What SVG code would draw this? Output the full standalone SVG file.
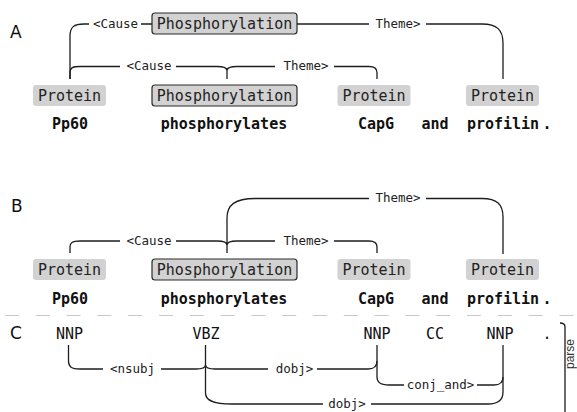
<svg xmlns="http://www.w3.org/2000/svg" width="577" height="412" viewBox="0 0 577 412">
<style>
.bg{fill:#ffffff}
.prot{fill:#d2d2d2;stroke:none}
.phos{fill:#d2d2d2;stroke:#2a2a2a;stroke-width:1.2}
.lbl{font-family:"DejaVu Sans Mono",monospace;font-size:15px;fill:#222;text-anchor:middle}
.word{font-family:"DejaVu Sans Mono",monospace;font-size:15px;font-weight:bold;fill:#111;text-anchor:middle}
.tag{font-family:"DejaVu Sans Mono",monospace;font-size:15px;fill:#111;text-anchor:middle}
.arcl{font-family:"DejaVu Sans Mono",monospace;font-size:12.5px;fill:#222;text-anchor:middle}
.row{font-family:"DejaVu Sans",sans-serif;font-size:17px;fill:#111}
.arc{fill:none;stroke:#1e1e1e;stroke-width:1.3}
.sep{fill:none;stroke:#c8c8c8;stroke-width:1.2;stroke-dasharray:14 16.8}
.side{font-family:"Liberation Sans",sans-serif;font-size:12px;fill:#333;text-anchor:middle}
</style>
<rect class="bg" x="0" y="0" width="577" height="412"/>

<text class="row" x="10" y="38">A</text>
<text class="row" x="11" y="212">B</text>
<text class="row" x="10" y="339">C</text>

<!-- Row A nodes -->
<g id="a-phos-top"><rect class="phos" x="152" y="13" width="145" height="21" rx="3"/><text class="lbl" x="224.5" y="29">Phosphorylation</text></g>
<g id="a-prot-pp60"><rect class="prot" x="33" y="85" width="73" height="21" rx="3"/><text class="lbl" x="69.5" y="100.5">Protein</text></g>
<g id="a-phos"><rect class="phos" x="152" y="85" width="145" height="21" rx="3"/><text class="lbl" x="224.5" y="100.5">Phosphorylation</text></g>
<g id="a-prot-capg"><rect class="prot" x="337.5" y="85" width="73" height="21" rx="3"/><text class="lbl" x="374" y="100.5">Protein</text></g>
<g id="a-prot-profilin"><rect class="prot" x="466" y="85" width="73" height="21" rx="3"/><text class="lbl" x="502.5" y="100.5">Protein</text></g>
<g id="a-words">
<text class="word" x="70" y="129">Pp60</text>
<text class="word" x="224" y="129">phosphorylates</text>
<text class="word" x="376" y="129">CapG</text>
<text class="word" x="435" y="129">and</text>
<text class="word" x="503" y="129">profilin</text>
<text class="word" x="547" y="129">.</text>
</g>

<!-- Row B nodes -->
<g id="b-prot-pp60"><rect class="prot" x="33" y="259" width="73" height="21" rx="3"/><text class="lbl" x="69.5" y="274.5">Protein</text></g>
<g id="b-phos"><rect class="phos" x="152" y="259" width="145" height="21" rx="3"/><text class="lbl" x="224.5" y="274.5">Phosphorylation</text></g>
<g id="b-prot-capg"><rect class="prot" x="337.5" y="259" width="73" height="21" rx="3"/><text class="lbl" x="374" y="274.5">Protein</text></g>
<g id="b-prot-profilin"><rect class="prot" x="466" y="259" width="73" height="21" rx="3"/><text class="lbl" x="502.5" y="274.5">Protein</text></g>
<g id="b-words">
<text class="word" x="70" y="304">Pp60</text>
<text class="word" x="224" y="304">phosphorylates</text>
<text class="word" x="376" y="304">CapG</text>
<text class="word" x="435" y="304">and</text>
<text class="word" x="503" y="304">profilin</text>
<text class="word" x="547" y="304">.</text>
</g>

<path class="sep" d="M5,315.5 H577"/>

<!-- Row C nodes -->
<g id="c-tags">
<text class="tag" x="69.5" y="339">NNP</text>
<text class="tag" x="206" y="339">VBZ</text>
<text class="tag" x="377" y="339">NNP</text>
<text class="tag" x="435" y="339">CC</text>
<text class="tag" x="500" y="339">NNP</text>
<text class="tag" x="547" y="339">.</text>
</g>

<g id="connectors">
<!-- Row A top -->
<path class="arc" d="M70,79 V36 C70,27 74,24 84,24 H89 M141,24 H152"/>
<text class="arcl" x="115.5" y="27.5">&lt;Cause</text>
<path class="arc" d="M297,24 H369 M426,24 H482 C497,24 503,30 503,43 V79"/>
<text class="arcl" x="398" y="27.5">Theme&gt;</text>
<!-- Row A second -->
<path class="arc" d="M70,79 V73 C70,68 72,66.5 80,66.5 H120 M176,66.5 H217 C223,66.5 227,67.5 227,70.5 V79 M227,70.5 C227,67.5 231,66.5 237,66.5 H275 M334,66.5 H369 C375,66.5 377,68.5 377,72.5 V79"/>
<text class="arcl" x="149" y="69.5">&lt;Cause</text>
<text class="arcl" x="306" y="69.5">Theme&gt;</text>
<!-- Row B top -->
<path class="arc" d="M227,245 V218 C227,205 235,198.5 255,198.5 H369 M426,198.5 H482 C497,198.5 503,204.5 503,217 V254"/>
<text class="arcl" x="398" y="202">Theme&gt;</text>
<!-- Row B second -->
<path class="arc" d="M70,253 V247 C70,243 72,241 80,241 H120 M176,241 H217 C223,241 227,242 227,245 V253 M227,245 C227,242 231,241 237,241 H275 M334,241 H369 C375,241 377,243 377,247 V253"/>
<text class="arcl" x="149" y="244.5">&lt;Cause</text>
<text class="arcl" x="306" y="244.5">Theme&gt;</text>
<!-- Row C -->
<path class="arc" d="M68.5,345 V361 C68.5,367 71.5,369 80,369 H103 M161,369 H196 C202,369 205.5,368 205.5,365 V345 M205.5,365 C205.5,368 209,369 215,369 H268 M317,369 H368 C374,369 377,367 377,361 V345"/>
<text class="arcl" x="132.5" y="372.5">&lt;nsubj</text>
<text class="arcl" x="294.5" y="372.5">dobj&gt;</text>
<path class="arc" d="M377,361 V377 C377,382.5 380,385 389,385 H404 M477,385 H494 C500,385 503,382 503,377"/>
<text class="arcl" x="440.5" y="388.5">conj_and&gt;</text>
<path class="arc" d="M205.5,365 V393 C205.5,400 212,404 232,404 H323 M371,404 H488 C498,404 503,400 503,392 V345"/>
<text class="arcl" x="347" y="407.5">dobj&gt;</text>
</g>

<g id="parse-bracket">
<path class="arc" d="M560,323 C563,323 565,324 565,327 V412"/>
<text class="side" transform="translate(573.5,354) rotate(-90)" x="0" y="0">parse</text>
</g>
</svg>
